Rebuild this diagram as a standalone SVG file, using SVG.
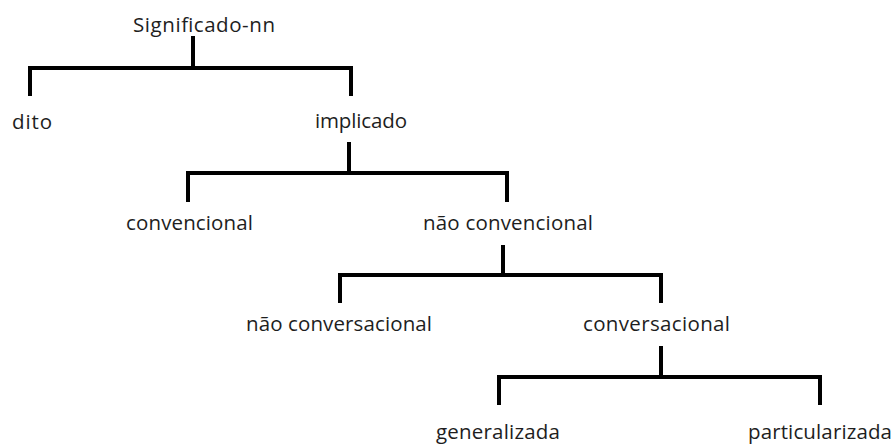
<svg xmlns="http://www.w3.org/2000/svg" width="894" height="444" viewBox="0 0 894 444">
<style>
.lbl{font-family:"Open Sans","Noto Sans","DejaVu Sans",sans-serif;font-size:20.5px;fill:#1e1e1e}
.br{fill:none;stroke:#000;stroke-width:4;stroke-linecap:butt;stroke-linejoin:miter}
</style>
<rect width="894" height="444" fill="#fff"/>
<g id="connectors">
<path class="br" d="M193 36V68M30 96V68H351V96"/>
<path class="br" d="M349 142V173M188 202V173H507V202"/>
<path class="br" d="M503 245V275M340 303V275H661V303"/>
<path class="br" d="M661 346V377M499 405V377H820V405"/>
</g>
<g id="n-significado"><text class="lbl" x="133" y="32" textLength="142">Significado-nn</text></g>
<g id="n-dito"><text class="lbl" x="12" y="129" textLength="40">dito</text></g>
<g id="n-implicado"><text class="lbl" x="315" y="128" textLength="92">implicado</text></g>
<g id="n-convencional"><text class="lbl" x="126" y="230" textLength="127">convencional</text></g>
<g id="n-nao-convencional"><text class="lbl" x="423" y="230" textLength="170">não convencional</text></g>
<g id="n-nao-conversacional"><text class="lbl" x="246" y="331" textLength="186">não conversacional</text></g>
<g id="n-conversacional"><text class="lbl" x="583" y="331" textLength="147">conversacional</text></g>
<g id="n-generalizada"><text class="lbl" x="436" y="439" textLength="124">generalizada</text></g>
<g id="n-particularizada"><text class="lbl" x="748" y="439" textLength="144">particularizada</text></g>
</svg>
